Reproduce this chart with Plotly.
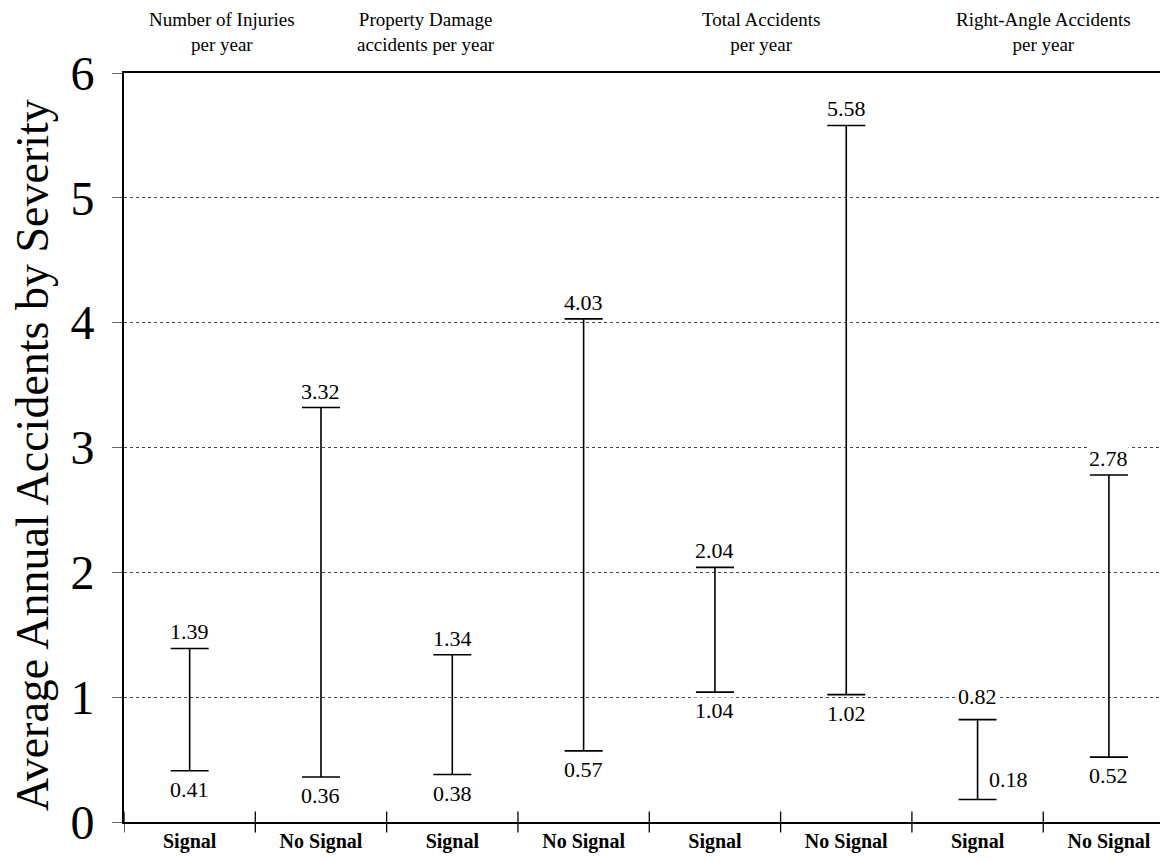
import plotly.graph_objects as go

# ---- data ----
categories = ["Signal", "No Signal", "Signal", "No Signal",
              "Signal", "No Signal", "Signal", "No Signal"]
low_values = [0.41, 0.36, 0.38, 0.57, 1.04, 1.02, 0.18, 0.52]
high_values = [1.39, 3.32, 1.34, 4.03, 2.04, 5.58, 0.82, 2.78]
group_titles = ["Number of Injuries<br>per year",
                "Property Damage<br>accidents per year",
                "Total Accidents<br>per year",
                "Right-Angle Accidents<br>per year"]
y_ticks = [0, 1, 2, 3, 4, 5, 6]
y_title = "Average Annual Accidents by Severity"

SERIF = "Liberation Serif, Times New Roman, serif"
xs = list(range(len(categories)))

fig = go.Figure()
fig.add_trace(go.Scatter(
    x=xs, y=low_values, mode="markers",
    marker=dict(size=1, color="rgba(0,0,0,0)"),
    error_y=dict(type="data", symmetric=False,
                 array=[h - l for h, l in zip(high_values, low_values)],
                 arrayminus=[0] * len(xs),
                 color="black", thickness=1.6, width=19),
    hoverinfo="skip", showlegend=False,
))

annotations = []
for i, (lo, hi) in enumerate(zip(low_values, high_values)):
    # high label
    annotations.append(dict(x=i, y=hi, xref="x", yref="y", text=f"{hi:.2f}",
                            showarrow=False, yanchor="bottom",
                            yshift=10 if hi < 1 else 3,
                            bgcolor="white", borderpad=0,
                            font=dict(family=SERIF, size=22, color="black")))
    # low label
    if i == 6:
        annotations.append(dict(x=i, y=lo, xref="x", yref="y", text=f"{lo:.2f}",
                                showarrow=False, xanchor="left", xshift=10,
                                yanchor="bottom", yshift=7,
                                bgcolor="white", borderpad=0,
                                font=dict(family=SERIF, size=22, color="black")))
    else:
        annotations.append(dict(x=i, y=lo, xref="x", yref="y", text=f"{lo:.2f}",
                                showarrow=False, yanchor="top", yshift=-5,
                                bgcolor="white", borderpad=0,
                                font=dict(family=SERIF, size=22, color="black")))

title_pos = [0.25, 1.8, 4.35, 6.5]
for t, xp in zip(group_titles, title_pos):
    annotations.append(dict(x=xp, y=1.0, xref="x", yref="paper", text=t,
                            showarrow=False, yanchor="bottom", yshift=16,
                            font=dict(family=SERIF, size=19, color="black")))

annotations.append(dict(x=-0.087, y=0.49, xref="paper", yref="paper",
                        text=y_title, textangle=-90, showarrow=False,
                        xanchor="center", yanchor="middle", borderpad=0,
                        font=dict(family=SERIF, size=46, color="black")))

shapes = []
# category boundary tick marks crossing the x axis
for k in range(len(categories)):
    shapes.append(dict(type="line", xref="x", yref="paper",
                       x0=k - 0.5, x1=k - 0.5, y0=-0.014, y1=0.014,
                       line=dict(color="black", width=1.3)))
# partial right border
shapes.append(dict(type="line", xref="paper", yref="y", x0=0.999, x1=0.999,
                   y0=4, y1=6, line=dict(color="black", width=1.5)))

fig.update_layout(
    width=1160, height=845,
    margin=dict(l=116, r=0, t=65, b=31),
    paper_bgcolor="white", plot_bgcolor="white",
    annotations=annotations, shapes=shapes,
    xaxis=dict(range=[-0.5, 7.45], tickmode="array", tickvals=xs,
               ticktext=categories, ticks="", showgrid=False, zeroline=False,
               showline=True, linecolor="black", linewidth=2, mirror=True,
               tickfont=dict(family=SERIF, size=20, color="black", weight="bold")),
    yaxis=dict(range=[0, 6], tickmode="array", tickvals=y_ticks,
               showgrid=True, gridcolor="#444", griddash="dot", gridwidth=1,
               zeroline=False, showline=True, linecolor="black", linewidth=2,
               ticks="outside", ticklen=10, tickcolor="#666", tickwidth=1,
               ticklabelstandoff=8,
               tickfont=dict(family=SERIF, size=48, color="black")),
)

fig.write_html("out.html")
